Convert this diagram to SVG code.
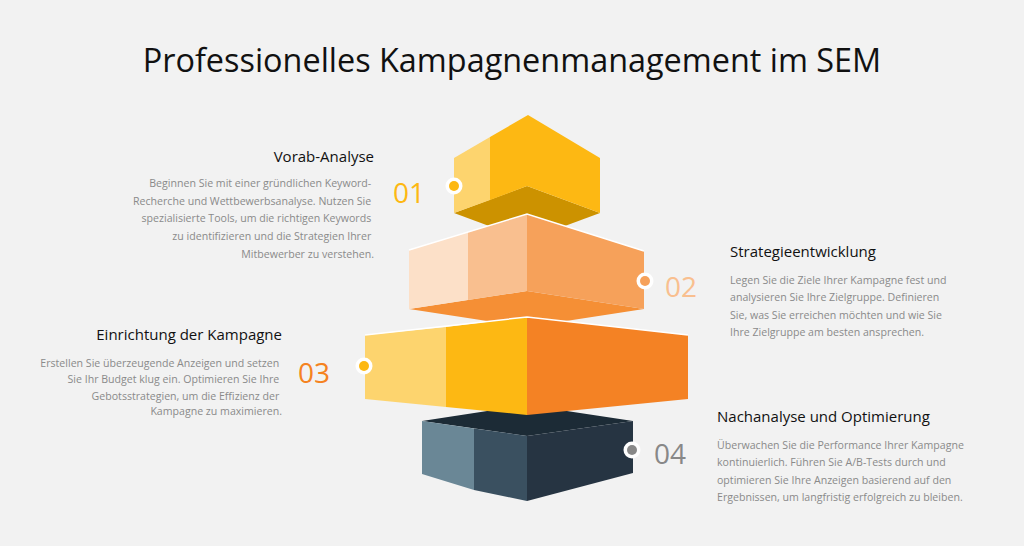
<svg xmlns="http://www.w3.org/2000/svg" width="1024" height="546" viewBox="0 0 1024 546">
<style>
.title{font-family:"Open Sans","Liberation Sans",sans-serif;font-size:32.4px;fill:#111}
.head{font-family:"Open Sans","Liberation Sans",sans-serif;font-size:15px;fill:#111}
.body{font-family:"Open Sans","Liberation Sans",sans-serif;font-size:10.6px;fill:#8a8a8a}
.num{font-family:"Open Sans","Liberation Sans",sans-serif;font-size:28px}
.ring{fill:#fff}
.edge{stroke:#fff;stroke-width:1.5;fill:none}
</style>
<rect width="1024" height="546" fill="#f2f2f2"/>
<text class="title" x="512" y="72" text-anchor="middle">Professionelles Kampagnenmanagement im SEM</text>

<g id="block4">
<polygon points="422,421 527,405 633,421 527,436" fill="#1c2b36"/>
<polygon points="422,421 474,428.5 474,490 422,474" fill="#6a8796"/>
<polygon points="474,428.5 527,436 527,501 474,490" fill="#3a5060"/>
<polygon points="527,436 633,421 633,473 527,501" fill="#263442"/>
</g>

<g id="block1">
<polygon points="454,213 527,186 600,213 527,240" fill="#cc9200"/>
<polygon points="454,158 490,137 490,200 454,213" fill="#fdd46e"/>
<polygon points="490,137 528,115 600,158 600,213 527,186 490,200" fill="#fdb813"/>
</g>

<g id="block2">
<polygon points="409,309 527,291 644,309 527,327" fill="#f58f35"/>
<polygon points="409,250 468,232 468,300 409,309" fill="#fce0c8"/>
<polygon points="468,232 527,214 527,291 468,300" fill="#f9bf8f"/>
<polygon points="527,214 644,251 644,309 527,291" fill="#f6a15a"/>
<polyline class="edge" points="409,250 527,214 644,251"/>
</g>

<g id="block3">
<polygon points="365,335 446,327 446,407 365,399" fill="#fdd46e"/>
<polygon points="446,327 527,317 527,415 446,407" fill="#fdb813"/>
<polygon points="527,317 688,335 688,399 527,415" fill="#f48224"/>
<polyline class="edge" points="365,335 527,317 688,335"/>
</g>

<g id="markers">
<g id="m1"><circle class="ring" cx="454" cy="186" r="8.5"/><circle cx="454" cy="186" r="5" fill="#fdb813"/></g>
<g id="m2"><circle class="ring" cx="645" cy="281" r="8.5"/><circle cx="645" cy="281" r="5" fill="#f6a15a"/></g>
<g id="m3"><circle class="ring" cx="364" cy="366" r="8.5"/><circle cx="364" cy="366" r="5" fill="#fdb813"/></g>
<g id="m4"><circle class="ring" cx="632" cy="450" r="8.5"/><circle cx="632" cy="450" r="5" fill="#888"/></g>
</g>

<g id="step1">
<text class="num" x="393" y="203" fill="#fdb813">01</text>
<text class="head" x="374" y="162" text-anchor="end">Vorab-Analyse</text>
<text class="body" text-anchor="end">
<tspan x="374" y="187">Beginnen Sie mit einer gründlichen Keyword-</tspan>
<tspan x="374" y="205">Recherche und Wettbewerbsanalyse. Nutzen Sie</tspan>
<tspan x="374" y="222">spezialisierte Tools, um die richtigen Keywords</tspan>
<tspan x="374" y="240">zu identifizieren und die Strategien Ihrer</tspan>
<tspan x="374" y="258">Mitbewerber zu verstehen.</tspan>
</text>
</g>

<g id="step2">
<text class="num" x="665" y="297" fill="#f9bf8f">02</text>
<text class="head" x="730" y="257">Strategieentwicklung</text>
<text class="body">
<tspan x="730" y="284">Legen Sie die Ziele Ihrer Kampagne fest und</tspan>
<tspan x="730" y="301">analysieren Sie Ihre Zielgruppe. Definieren</tspan>
<tspan x="730" y="319">Sie, was Sie erreichen möchten und wie Sie</tspan>
<tspan x="730" y="336">Ihre Zielgruppe am besten ansprechen.</tspan>
</text>
</g>

<g id="step3">
<text class="num" x="298" y="383" fill="#f58220">03</text>
<text class="head" x="282" y="340" text-anchor="end">Einrichtung der Kampagne</text>
<text class="body" text-anchor="end">
<tspan x="282" y="367">Erstellen Sie überzeugende Anzeigen und setzen</tspan>
<tspan x="282" y="383">Sie Ihr Budget klug ein. Optimieren Sie Ihre</tspan>
<tspan x="282" y="400">Gebotsstrategien, um die Effizienz der</tspan>
<tspan x="282" y="415">Kampagne zu maximieren.</tspan>
</text>
</g>

<g id="step4">
<text class="num" x="654" y="464" fill="#888">04</text>
<text class="head" x="717" y="422">Nachanalyse und Optimierung</text>
<text class="body">
<tspan x="717" y="449">Überwachen Sie die Performance Ihrer Kampagne</tspan>
<tspan x="717" y="466">kontinuierlich. Führen Sie A/B-Tests durch und</tspan>
<tspan x="717" y="484">optimieren Sie Ihre Anzeigen basierend auf den</tspan>
<tspan x="717" y="501">Ergebnissen, um langfristig erfolgreich zu bleiben.</tspan>
</text>
</g>
</svg>
